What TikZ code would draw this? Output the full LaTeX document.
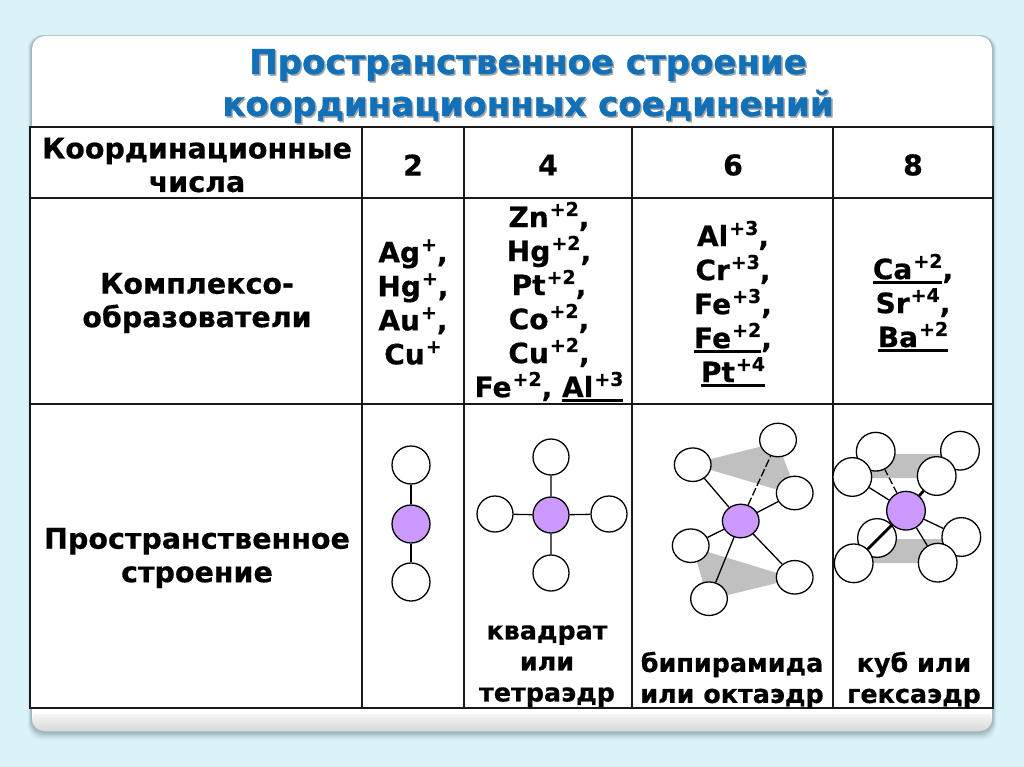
\documentclass[tikz,border=0pt]{standalone}
\usepackage{fontspec}
\setmainfont{DejaVu Sans}[BoldFont={DejaVu Sans Bold},BoldFeatures={FakeBold=0.5}]
\newfontfamily\ttlfont{DejaVu Sans Bold}[FakeBold=1.2]
\usetikzlibrary{shapes.geometric}
\definecolor{bgc}{HTML}{D9F3F8}
\definecolor{titlec}{HTML}{1270B8}
\definecolor{shadowc}{HTML}{9AB3B9}
\definecolor{atomc}{HTML}{CC99FF}
\definecolor{planec}{HTML}{C0C0C0}
\newcommand\cs[2]{#1\kern1pt\raisebox{.40em}{\fontsize{19pt}{19pt}\selectfont #2}}
\newcommand\ul[1]{\leavevmode\setbox0\hbox{#1}\rlap{\raisebox{-5pt}{\rule{\wd0}{2.8pt}}}\box0}
\tikzset{
 x=1pt,y=-1pt,
 grid/.style={line width=1.7pt,black!90},
 cell/.style={font=\fontsize{28.5pt}{33.5pt}\selectfont\bfseries,align=center,inner sep=0pt,black},
 ions/.style={font=\fontsize{28pt}{34pt}\selectfont\bfseries,align=center,inner sep=0pt,black},
 small/.style={font=\fontsize{25.4pt}{31pt}\selectfont\bfseries,align=center,inner sep=0pt,black},
 ttl/.style={font=\fontsize{34pt}{42pt}\selectfont\ttlfont,align=center,inner sep=0pt},
 lig/.style={circle,draw,fill=white,line width=1.3pt,inner sep=0pt},
 ligA/.style={lig,minimum size=38pt},
 ligB/.style={lig,minimum size=36pt},
 ligD/.style={lig,minimum size=38.7pt},
 ligC/.style={ellipse,draw,fill=white,line width=1.3pt,inner sep=0pt,minimum width=36.7pt,minimum height=33.5pt},
 bond/.style={line width=1.3pt},
 thickbond/.style={line width=2.8pt},
 dbond/.style={line width=1.3pt,dash pattern=on 8pt off 2.5pt},
 plane/.style={fill=planec,draw=none}
}
\begin{document}
\begin{tikzpicture}
\useasboundingbox (0,0) rectangle (1024,767);
\fill[bgc] (0,0) rectangle (1024,767);
% panel
\foreach \o/\a in {9/.06,8/.08,7/.10,6/.14,5/.2,4/.3,3/.4,2/.55,1/.7}{
 \fill[shadowc,opacity=\a,rounded corners=14pt] (32-\o/2,36-\o/8) rectangle (992+\o/2,731+\o);
}
\fill[white,rounded corners=13pt] (32,36) rectangle (992,731);
\shade[top color=white,bottom color=black!15,rounded corners=12pt,draw=none] (32,708) rectangle (992,731);
\fill[white] (32,700) rectangle (992,714);
% title
\node[ttl,text=black!35] at (529.5,87.5) {Пространственное строение\\координационных соединений};
\node[ttl,text=titlec] (title) at (528,86) {Пространственное строение\\координационных соединений};
% table
\fill[white] (30,127) rectangle (993,708);
\draw[grid] (30,127) rectangle (993,708);
\draw[grid] (30,198) -- (993,198) (30,404) -- (993,404);
\draw[grid] (362,127) -- (362,708) (464,127) -- (464,708) (632,127) -- (632,708) (833,127) -- (833,708);
% header row
\node[cell] (h0) at (197,165) {Координационные\\числа};
\node[cell] (h2) at (413,165) {2};
\node[cell] (h4) at (548,165) {4};
\node[cell] (h6) at (733,165) {6};
\node[cell] (h8) at (913,165) {8};
% row 2
\node[cell] (r0) at (197,303) {Комплексо-\\образователи};
\node[ions] (r2) at (413,302) {\cs{Ag}{+},\\\cs{Hg}{+},\\\cs{Au}{+},\\\cs{Cu}{+}};
\node[ions] (r4) at (549,302) {\cs{Zn}{+2},\\\cs{Hg}{+2},\\\cs{Pt}{+2},\\\cs{Co}{+2},\\\cs{Cu}{+2},\\\cs{Fe}{+2}, \ul{\cs{Al}{+3}}};
\node[ions] (r6) at (733,304) {\cs{Al}{+3},\\\cs{Cr}{+3},\\\cs{Fe}{+3},\\\ul{\cs{Fe}{+2}},\\\ul{\cs{Pt}{+4}}};
\node[ions] (r8) at (913,303) {\ul{\cs{Ca}{+2}},\\\cs{Sr}{+4},\\\ul{\cs{Ba}{+2}}};
% row 3
\node[cell] (s0) at (197,558) {Пространственное\\строение};
\node[small] (s4) at (547,666) {квадрат\\или\\тетраэдр};
\node[small] (s6) at (732,680) {бипирамида\\или октаэдр};
\node[small] (s8) at (914,680) {куб или\\гексаэдр};
% CN 2
\node[ligA] (a1) at (411,465) {};
\node[ligA,fill=atomc] (a0) at (411,524) {};
\node[ligA] (a2) at (411,582) {};
\draw[bond] (a1)--(a0) (a0)--(a2);
% CN 4
\node[ligB,fill=atomc] (b0) at (551,515) {};
\node[ligB] (b1) at (551,457) {};
\node[ligB] (b2) at (551,573) {};
\node[ligB] (b3) at (495,514) {};
\node[ligB] (b4) at (609,514) {};
\draw[bond] (b0)--(b1) (b0)--(b2) (b0)--(b3) (b0)--(b4);
% CN 6
\fill[plane] (711,459) -- (763,446) -- (783,457) -- (790,475) -- (775,489) -- (711,470) -- cycle;
\fill[plane] (708,552) -- (777,573) -- (777,583) -- (728,595) -- (703,583) -- (697,562) -- cycle;
\node[ligC] (c1) at (778,440) {};
\node[ligC] (c2) at (692.7,464.7) {};
\node[ligC] (c3) at (794.7,493) {};
\node[ligC,fill=atomc] (c0) at (740.7,521) {};
\node[ligC] (c4) at (690.7,545.7) {};
\node[ligC] (c5) at (794.7,577.3) {};
\node[ligC] (c6) at (709,598.7) {};
\draw[bond] (c0)--(c2) (c0)--(c3) (c0)--(c4) (c0)--(c5) (c0)--(c6);
\draw[dbond] (c0)--(c1);
% CN 8
\fill[plane] (895,454) -- (942,454) -- (942,478) -- (872,478) -- (872,470) -- cycle;
\fill[plane] (897,539) -- (942,539) -- (942,563) -- (873,563) -- (873,555) -- cycle;
\node[ligD] (d1) at (875.7,451.7) {};
\node[ligD] (d2) at (960,450.7) {};
\node[ligD] (d3) at (852.3,477) {};
\node[ligD] (d4) at (936.7,476) {};
\node[ligD] (d5) at (877,538) {};
\node[ligD] (d6) at (961.3,537) {};
\node[ligD] (d7) at (853.7,563.3) {};
\node[ligD] (d8) at (937.7,562.7) {};
\node[ligD,fill=atomc] (d0) at (906,510.7) {};
\draw[bond] (d0)--(d3) (d0)--(d6) (d0)--(d8);
\draw[dbond,dash pattern=on 7pt off 3pt] (d0)--(d1);
\draw[thickbond] (d0)--(d4) (d0)--(d7);
\end{tikzpicture}
\end{document}
